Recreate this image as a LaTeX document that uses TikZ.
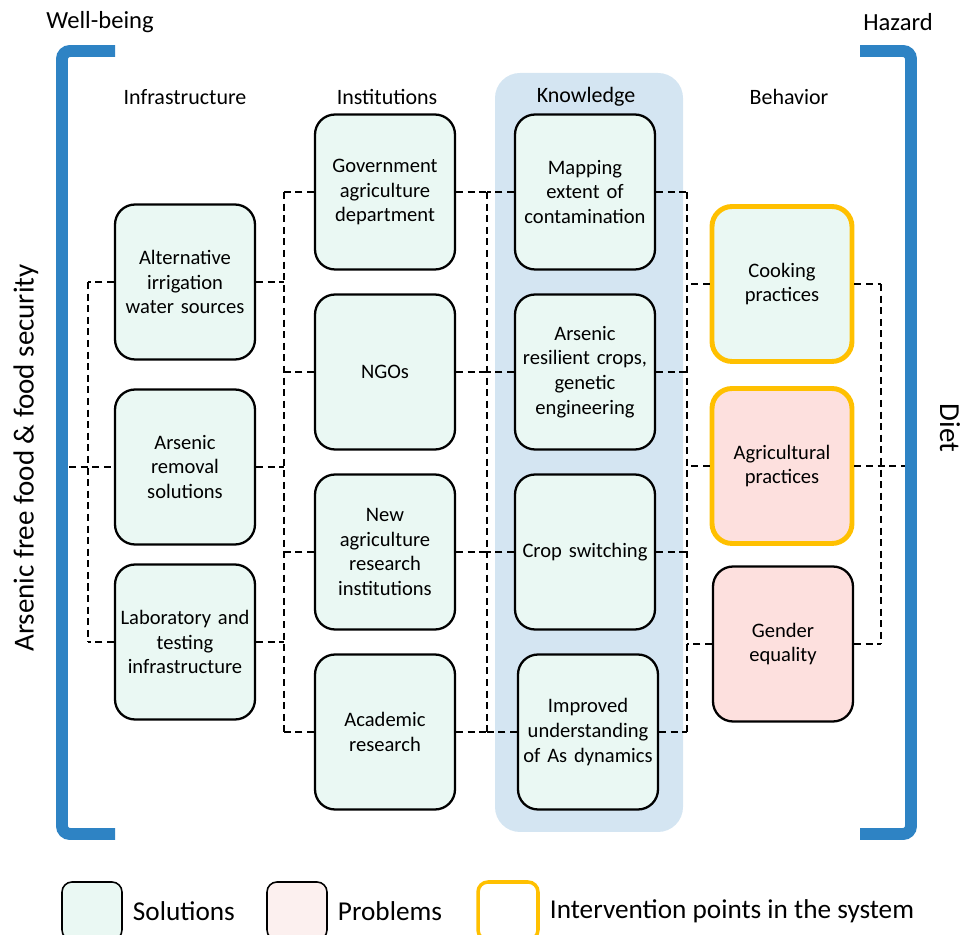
\documentclass[tikz,border=0pt]{standalone}
\usepackage{fontspec}
\setmainfont{Carlito}
\usepackage{tikz}
\usetikzlibrary{positioning}
\definecolor{solfill}{HTML}{EAF8F3}
\definecolor{probfill}{HTML}{FDE0DE}
\definecolor{problight}{HTML}{FCF0EF}
\definecolor{ivborder}{HTML}{FFC000}
\definecolor{knowbg}{HTML}{D4E5F2}
\definecolor{bracketc}{HTML}{2E83C4}

\begin{document}
\begin{tikzpicture}[x=0.02cm,y=-0.02cm,font=\fontsize{11.7}{14}\selectfont,
    box/.style={draw=black,line width=1.3pt,rounded corners=0.4cm,minimum width=2.8cm,minimum height=3.1cm,text width=2.6cm,align=center,inner sep=0pt},
    sol/.style={box,fill=solfill},
    prob/.style={box,fill=probfill},
    ivpt/.style={draw=ivborder,line width=2.8pt},
    keybox/.style={draw=black,line width=0.9pt,rounded corners=0.2cm,minimum width=1.2cm,minimum height=1.16cm,inner sep=0pt},
    keytext/.style={right=0.08cm of #1,font=\fontsize{15.5}{18}\selectfont},
    head/.style={font=\fontsize{12.5}{15}\selectfont},
    link/.style={black,line width=0.8pt,dash pattern=on 4pt off 2.6pt},
    bracket/.style={bracketc,line width=6.8pt,rounded corners=0.16cm}]
        \useasboundingbox (0,0) rectangle (965,935);
        \fill[knowbg,rounded corners=0.5cm] (495,73) rectangle (683,832);
        \draw[bracket] (115,51) -- (62,51) -- (62,834) -- (115,834);
        \draw[bracket] (860,51) -- (911,51) -- (911,834) -- (860,834);
        \node[font=\fontsize{14}{16}\selectfont] (wellbeing) at (100,22) {Well-being};
        \node[font=\fontsize{14}{16}\selectfont] (hazard) at (898,22) {Hazard};
        \node[rotate=90,font=\fontsize{16.5}{19}\selectfont] (food) at (26,458) {Arsenic free food \& food security};
        \node[rotate=-90,font=\fontsize{16.5}{19}\selectfont] (diet) at (950,428) {Diet};
        \node[head] (hinfra) at (185,97) {Infrastructure};
        \node[head] (hinst) at (387,97) {Institutions};
        \node[head] (hknow) at (586,97) {Knowledge};
        \node[head] (hbeh) at (789,97) {Behavior};
        \node[sol] (alt) at (185,282) {Alternative\\irrigation\\water sources};
        \node[sol] (rem) at (185,467) {Arsenic\\removal\\solutions};
        \node[sol] (lab) at (185,642) {Laboratory and\\testing\\infrastructure};
        \node[sol] (gov) at (385,192) {Government\\agriculture\\department};
        \node[sol] (ngo) at (385,372) {NGOs};
        \node[sol] (nar) at (385,552) {New\\agriculture\\research\\institutions};
        \node[sol] (acad) at (385,732) {Academic\\research};
        \node[sol] (map) at (585,192) {Mapping\\extent of\\contamination};
        \node[sol] (arc) at (585,372) {Arsenic\\resilient crops,\\genetic\\engineering};
        \node[sol] (crop) at (585,552) {Crop switching};
        \node[sol] (und) at (588,732) {Improved\\understanding\\of As dynamics};
        \node[sol,ivpt] (cook) at (782,284) {Cooking\\practices};
        \node[prob,ivpt] (agri) at (782,466) {Agricultural\\practices};
        \node[prob] (gend) at (783,644) {Gender\\equality};
        \coordinate (wb) at (69,0);
        \coordinate (b0) at (88,0);
        \coordinate (b1) at (284,0);
        \coordinate (b2) at (487,0);
        \coordinate (b3) at (687,0);
        \coordinate (b4) at (881,0);
        \coordinate (hz) at (905,0);
        \foreach \n in {alt,lab} {\draw[link] (\n.west) -- (\n.west -| b0);}
        \draw[link] (alt.west -| b0) -- (lab.west -| b0);
        \draw[link] (wb |- rem.west) -- (rem.west);
        \foreach \n in {alt,rem,lab} {\draw[link] (\n.east) -- (\n.east -| b1);}
        \foreach \n in {gov,ngo,nar,acad} {\draw[link] (\n.west) -- (\n.west -| b1);}
        \draw[link] (gov.west -| b1) -- (acad.west -| b1);
        \foreach \n in {gov,ngo,nar,acad} {\draw[link] (\n.east) -- (\n.east -| b2);}
        \foreach \n in {map,arc,crop,und} {\draw[link] (\n.west) -- (\n.west -| b2);}
        \draw[link] (gov.east -| b2) -- (acad.east -| b2);
        \foreach \n in {map,arc,crop,und} {\draw[link] (\n.east) -- (\n.east -| b3);}
        \foreach \n in {cook,agri,gend} {\draw[link] (\n.west) -- (\n.west -| b3);}
        \draw[link] (map.east -| b3) -- (und.east -| b3);
        \foreach \n in {cook,gend} {\draw[link] (\n.east) -- (\n.east -| b4);}
        \draw[link] (cook.east -| b4) -- (gend.east -| b4);
        \draw[link] (agri.east) -- (agri.east -| hz);
        \node[keybox,fill=solfill] (keysol) at (92,911) {};
        \node[keytext=keysol] (tsol) {Solutions};
        \node[keybox,fill=problight] (keyprob) at (297,911) {};
        \node[keytext=keyprob] (tprob) {Problems};
        \node[keybox,draw=ivborder,line width=2pt,fill=white] (keyiv) at (508,911) {};
        \node[keytext=keyiv] (tiv) {Intervention points in the system};
      \end{tikzpicture}
\end{document}
